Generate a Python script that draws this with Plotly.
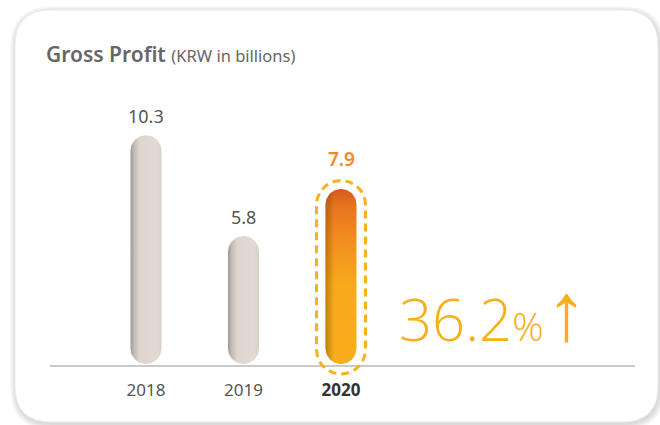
import numpy as np
import plotly.graph_objects as go

# ---- data -------------------------------------------------------------
years = ["2018", "2019", "2020"]
gross_profit = [10.3, 5.8, 7.9]          # KRW in billions
highlight_index = 2                        # the latest year is emphasised

# ---- canvas / scale setup ----------------------------------------------
W, H = 660, 425
X_DOM_PX = (50, 635)        # horizontal extent of the plotting area (px)
Y_DOM_PX = (90, 378)        # top / bottom of the plotting area (px from top)
ZERO_PX = 366               # where y = 0 sits (px from top)
PX_PER_X = 97.5             # distance between neighbouring years
PX_PER_Y = 22.4             # pixels per KRW billion
FIRST_CAT_PX = 146          # centre of the first bar

x_lo = -(FIRST_CAT_PX - X_DOM_PX[0]) / PX_PER_X
x_hi = x_lo + (X_DOM_PX[1] - X_DOM_PX[0]) / PX_PER_X
y_lo = -(Y_DOM_PX[1] - ZERO_PX) / PX_PER_Y
y_hi = (ZERO_PX - Y_DOM_PX[0]) / PX_PER_Y


def pill(cx, y0, y1, half_w_px, n=40):
    """Closed outline of a vertical capsule between data y0 and y1."""
    rx = half_w_px / PX_PER_X
    ry = half_w_px / PX_PER_Y
    top = np.linspace(0, np.pi, n)
    bot = np.linspace(np.pi, 2 * np.pi, n)
    xs = np.concatenate([cx + rx * np.cos(top), cx + rx * np.cos(bot)])
    ys = np.concatenate([(y1 - ry) + ry * np.sin(top), (y0 + ry) + ry * np.sin(bot)])
    return list(xs) + [xs[0]], list(ys) + [ys[0]]


fig = go.Figure()

BAR_HALF_PX = 15.5
BASE_GAP = 2 / PX_PER_Y

for i, (yr, val) in enumerate(zip(years, gross_profit)):
    xs, ys = pill(i, BASE_GAP, val, BAR_HALF_PX)
    if i == highlight_index:
        fig.add_trace(go.Scatter(
            x=xs, y=ys, mode="lines", fill="toself", line=dict(width=0),
            fillgradient=dict(type="vertical", colorscale=[
                [0.0, "#f8ae1b"], [0.45, "#f7a91c"], [0.72, "#f28c20"],
                [0.9, "#e8741f"], [1.0, "#d55a1f"]]),
            hoverinfo="skip", showlegend=False))
        # subtle shading on the left edge
        fig.add_trace(go.Scatter(
            x=xs, y=ys, mode="lines", fill="toself", line=dict(width=0),
            fillgradient=dict(type="horizontal", colorscale=[
                [0.0, "rgba(120,70,0,0.45)"], [0.28, "rgba(120,70,0,0.0)"],
                [1.0, "rgba(120,70,0,0.0)"]]),
            hoverinfo="skip", showlegend=False))
        # dashed capsule around the highlighted bar
        ox, oy = pill(i, -8 / PX_PER_Y, val + 8.5 / PX_PER_Y, BAR_HALF_PX + 9)
        fig.add_trace(go.Scatter(
            x=ox, y=oy, mode="lines",
            line=dict(color="#f9b21e", width=3, dash="8px,5px"),
            hoverinfo="skip", showlegend=False))
    else:
        fig.add_trace(go.Scatter(
            x=xs, y=ys, mode="lines", fill="toself", line=dict(width=0),
            fillgradient=dict(type="horizontal", colorscale=[
                [0.0, "#9d9892"], [0.12, "#c2bcb5"], [0.3, "#dcd6ce"],
                [0.85, "#e0dad2"], [1.0, "#d6d0c8"]]),
            hoverinfo="skip", showlegend=False))

# value labels above bars
for i, val in enumerate(gross_profit):
    hi = i == highlight_index
    fig.add_annotation(
        x=i, y=val, xref="x", yref="y", text=f"{val}",
        showarrow=False, yanchor="middle", yshift=30 if hi else 19,
        font=dict(family="Noto Sans", size=19 if hi else 18,
                  color="#f5891f" if hi else "#555555",
                  weight=600 if hi else 400))

# growth callout: percentage plus an up arrow
growth = (gross_profit[-1] - gross_profit[-2]) / gross_profit[-2] * 100
fig.add_annotation(
    x=(398 - FIRST_CAT_PX) / PX_PER_X, y=48 / PX_PER_Y, xref="x", yref="y",
    xanchor="left", showarrow=False, borderpad=0,
    text=f"{growth:.1f}<span style='font-size:39px'>%</span>",
    font=dict(family="Open Sans", size=58, color="#f9ae1b", weight=300))
fig.add_annotation(
    x=(566 - FIRST_CAT_PX) / PX_PER_X, y=58 / PX_PER_Y, xref="x", yref="y",
    showarrow=False, borderpad=0,
    text="↑",
    font=dict(family="Noto Sans", size=82, color="#f9ae1b", weight=200))

# title
fig.add_annotation(
    x=44 / W, y=1 - 54 / H, xref="paper", yref="paper",
    xanchor="left", yanchor="middle", showarrow=False,
    text=("Gross Profit <span style='font-size:16.5px;font-weight:400'>"
          "(KRW in billions)</span>"),
    font=dict(family="Noto Sans", size=21, color="#666666", weight=600))

# card with soft shadow
def rounded_rect(x0, y0, x1, y1, r):
    px = lambda v: v / W
    py = lambda v: 1 - v / H
    return (f"M {px(x0 + r)},{py(y0)} L {px(x1 - r)},{py(y0)} "
            f"Q {px(x1)},{py(y0)} {px(x1)},{py(y0 + r)} "
            f"L {px(x1)},{py(y1 - r)} Q {px(x1)},{py(y1)} {px(x1 - r)},{py(y1)} "
            f"L {px(x0 + r)},{py(y1)} Q {px(x0)},{py(y1)} {px(x0)},{py(y1 - r)} "
            f"L {px(x0)},{py(y0 + r)} Q {px(x0)},{py(y0)} {px(x0 + r)},{py(y0)} Z")

card = (15, 10, 658, 422, 36)
for k in range(6, 0, -1):
    fig.add_shape(type="path", xref="paper", yref="paper", layer="below",
                  path=rounded_rect(card[0] - k + 1, card[1] - k + 2, card[2] + k + 1,
                                    card[3] + k + 2, card[4] + k),
                  fillcolor="rgba(0,0,0,0.022)", line=dict(width=0))
fig.add_shape(type="path", xref="paper", yref="paper", layer="below",
              path=rounded_rect(*card), fillcolor="#ffffff",
              line=dict(color="#ececec", width=1))

fig.update_layout(
    width=W, height=H, margin=dict(l=0, r=0, t=0, b=0),
    paper_bgcolor="#ffffff", plot_bgcolor="rgba(0,0,0,0)",
    xaxis=dict(domain=[X_DOM_PX[0] / W, X_DOM_PX[1] / W], range=[x_lo, x_hi],
               tickvals=list(range(len(years))),
               ticktext=[f"<b style='color:#333333'>{y}</b>" if i == highlight_index else y
                         for i, y in enumerate(years)],
               tickfont=dict(family="Noto Sans", size=17, color="#555555"),
               showgrid=False, zeroline=False, showline=False, ticks=""),
    yaxis=dict(domain=[1 - Y_DOM_PX[1] / H, 1 - Y_DOM_PX[0] / H], range=[y_lo, y_hi],
               showgrid=False, showticklabels=False, ticks="",
               zeroline=True, zerolinecolor="#c9c9c9", zerolinewidth=1.5),
    showlegend=False,
)

fig.write_html("out.html")
